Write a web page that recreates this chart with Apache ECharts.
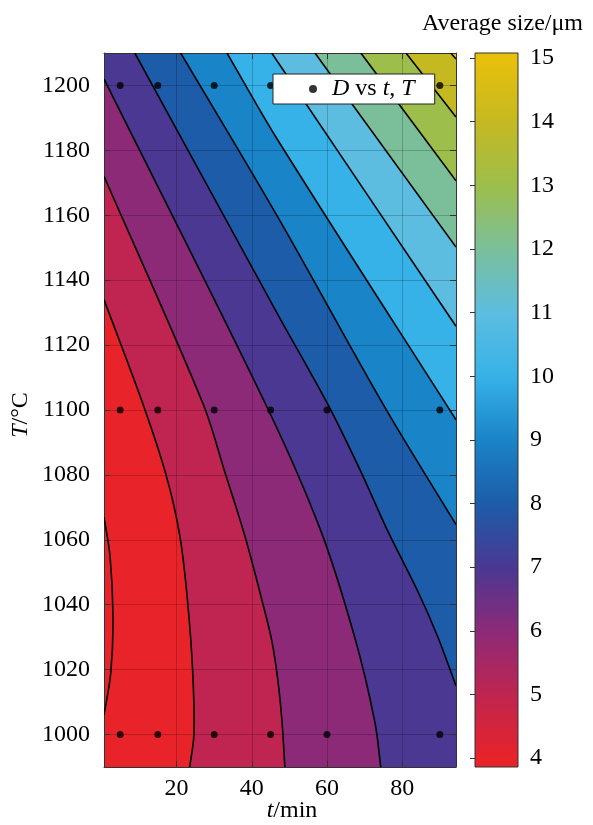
<!DOCTYPE html>
<html><head><meta charset="utf-8">
<script src="https://cdn.jsdelivr.net/npm/echarts@6/dist/echarts.min.js"></script>
<style>html,body{margin:0;padding:0;background:#fff}#c{width:593px;height:825px}</style>
</head><body><div id="c"></div>
<script>
// ---- data ----
const levels = [4,5,6,7,8,9,10,11,12,13,14,15];
const levelColors = ['#e8232a','#bf2550','#8c2a78','#4a3892','#1d5ca8','#1a84c8','#36b2e8','#5dbde0','#7bbf9a','#9dbe4a','#c5b922','#e8c00a'];

// contour lines, traced as [t (min), T (°C)]
const contourLevel4  = [[0.7,1067],[2.3,1055],[3.1,1036],[2.5,1019],[0.7,1006]];
const contourLevel5  = [[0.7,1134],[11.0,1102],[17.2,1080],[20.9,1061],[23.0,1040],[24.3,1019],[24.6,1000],[23.5,990]];
const contourLevel6  = [[0.7,1172],[27.0,1102],[32.8,1081],[38.2,1061],[43.0,1040],[45.3,1029],[46.9,1017],[48.0,1004.5],[48.8,990]];
const contourLevel7  = [[0.7,1202],[44.0,1101],[58.4,1062.6],[67.4,1029.8],[72.7,1004],[74.3,990]];
const contourLevel8  = [[8.9,1210],[46.9,1129.5],[60.2,1101.8],[69.0,1081],[76.2,1062.6],[84.2,1044],[89.5,1030],[94.3,1015]];
const contourLevel9  = [[21.1,1210],[46.9,1159.5],[75.4,1100.8],[94.3,1064.7]];
const contourLevel10 = [[33.4,1210],[46.9,1183.2],[94.3,1097]];
const contourLevel11 = [[45.3,1210],[94.3,1125.8]];
const contourLevel12 = [[56.8,1210],[94.3,1150.2]];
const contourLevel13 = [[69.0,1210],[94.3,1170.6]];
const contourLevel14 = [[81.0,1210],[94.3,1190.3]];
const contourLevel15 = [[92.9,1210],[94.3,1208.2]];

// measured samples
const sampleTimes = [5,15,30,45,60,90];
const sampleTemps = [1000,1100,1200];

// ticks
const xTicks = [20,40,60,80];
const yTicks = [1000,1020,1040,1060,1080,1100,1120,1140,1160,1180,1200];
const cbTicks = [4,5,6,7,8,9,10,11,12,13,14,15];

// ---- chart ----
const FONT = 'Liberation Serif';
const FS = 24;
const X0 = 0.7, X1 = 94.3, Y0 = 990, Y1 = 1210;
const CB0 = 3.86, CB1 = 15.08;
const contourLines = [contourLevel4,contourLevel5,contourLevel6,contourLevel7,contourLevel8,contourLevel9,
  contourLevel10,contourLevel11,contourLevel12,contourLevel13,contourLevel14,contourLevel15];

function perim(p){
  const e = 0.01;
  if (Math.abs(p[0]-X0) < e) return (p[1]-Y0)/(Y1-Y0);
  if (Math.abs(p[1]-Y1) < e) return 1 + (p[0]-X0)/(X1-X0);
  if (Math.abs(p[0]-X1) < e) return 2 + (Y1-p[1])/(Y1-Y0);
  return 3 + (X1-p[0])/(X1-X0);
}
const corners = {1:[X0,Y1], 2:[X1,Y1], 3:[X1,Y0], 4:[X0,Y0]};
function regionCorners(line){
  const pS = perim(line[0]), pE = perim(line[line.length-1]);
  const out = [];
  for (let k = Math.floor(pE); k > pS; k--) { if (k < pE && corners[k]) out.push(corners[k]); }
  return out;
}
// smooth stroke through pixel points (chord-scaled Catmull-Rom as cubic Bezier)
function dist(a, b){ return Math.hypot(a[0]-b[0], a[1]-b[1]); }
function curveD(px){
  let d = 'M' + px[0][0] + ' ' + px[0][1];
  const n = px.length;
  for (let i = 0; i < n-1; i++) {
    const p0 = px[Math.max(0,i-1)], p1 = px[i], p2 = px[i+1], p3 = px[Math.min(n-1,i+2)];
    const d12 = dist(p1,p2);
    const s1 = d12 / (3 * (dist(p0,p1) + d12));
    const s2 = d12 / (3 * (d12 + dist(p2,p3)));
    const c1 = [p1[0] + (p2[0]-p0[0])*s1, p1[1] + (p2[1]-p0[1])*s1];
    const c2 = [p2[0] - (p3[0]-p1[0])*s2, p2[1] - (p3[1]-p1[1])*s2];
    d += ' C' + c1[0] + ' ' + c1[1] + ' ' + c2[0] + ' ' + c2[1] + ' ' + p2[0] + ' ' + p2[1];
  }
  return d;
}

const samples = [];
sampleTemps.forEach(T => sampleTimes.forEach(t => samples.push([t, T])));

const chart = echarts.init(document.getElementById('c'), null, {renderer:'canvas'});
const axisCol = '#333';
const labelStyle = {fontSize:FS, fontFamily:FONT, color:'#000'};

const cbStops = [{offset:0, color: levelColors[levels.length-1]}];
for (let i = levels.length-1; i >= 0; i--) {
  cbStops.push({offset: Math.min(1, Math.max(0, (CB1-levels[i])/(CB1-CB0))), color: levelColors[i]});
}
cbStops.push({offset:1, color: levelColors[0]});

const series = [];
// filled bands: base colour, then region above each level painted in ascending order
series.push({
  type:'custom', xAxisIndex:0, yAxisIndex:0, z:1, silent:true, clip:true,
  data: levels.map((l, i) => contourLines[i][0]),
  renderItem: function(params, api){
    const i = params.dataIndex;
    let d;
    if (i === 0) {
      const c = [[X0,Y0],[X0,Y1],[X1,Y1],[X1,Y0]].map(p => api.coord(p));
      d = 'M' + c.map(p => p[0] + ' ' + p[1]).join(' L') + ' Z';
    } else {
      const line = contourLines[i];
      d = curveD(line.map(p => api.coord(p)));
      regionCorners(line).forEach(c => { const q = api.coord(c); d += ' L' + q[0] + ' ' + q[1]; });
      d += ' Z';
    }
    return {type:'path', shape:{pathData:d}, style:{fill:levelColors[i], stroke:levelColors[i], lineWidth:0.6}};
  }
});
// contour lines
series.push({
  type:'custom', xAxisIndex:0, yAxisIndex:0, z:4, silent:true, clip:true,
  data: levels.map((l, i) => contourLines[i][0]),
  renderItem: function(params, api){
    const line = contourLines[params.dataIndex];
    return {type:'path', shape:{pathData: curveD(line.map(p => api.coord(p)))},
      style:{fill:null, stroke:'#000', lineWidth:1.6}};
  }
});
series.push({
  type:'scatter', name:'D vs t, T', xAxisIndex:0, yAxisIndex:0, data: samples,
  symbol:'circle', symbolSize:7, itemStyle:{color:'#000'}, z:5
});
series.push({
  type:'custom', xAxisIndex:2, yAxisIndex:2, z:2, silent:true,
  data:[[0, CB0]],
  renderItem: function(params, api){
    const a = api.coord([0, CB1]), b = api.coord([1, CB0]);
    return {type:'rect', shape:{x:a[0], y:a[1], width:b[0]-a[0], height:b[1]-a[1]},
      style:{fill: new echarts.graphic.LinearGradient(0,0,0,1, cbStops), stroke:axisCol, lineWidth:1}};
  }
});

const option = {
  animation:false,
  textStyle:{fontFamily:FONT},
  grid:[
    {left:104, top:53, width:352, height:714},
    {left:475, top:53, width:43, height:714}
  ],
  xAxis:[
    {gridIndex:0, type:'value', min:X0, max:X1, position:'bottom', z:3,
     axisLine:{show:true, onZero:false, lineStyle:{color:axisCol, width:1}},
     axisTick:{show:true, inside:true, length:6, customValues:xTicks, lineStyle:{color:axisCol}},
     axisLabel:Object.assign({customValues:xTicks, margin:10, formatter: v => String(v)}, labelStyle),
     splitLine:{show:true, lineStyle:{color:'rgba(0,0,0,0.2)', width:1}}},
    {gridIndex:0, type:'value', min:X0, max:X1, position:'top', z:3,
     axisLine:{show:true, onZero:false, lineStyle:{color:axisCol, width:1}},
     axisTick:{show:true, inside:true, length:6, customValues:xTicks, lineStyle:{color:axisCol}},
     axisLabel:{show:false}, splitLine:{show:false}},
    {gridIndex:1, type:'value', min:0, max:1, show:false}
  ],
  yAxis:[
    {gridIndex:0, type:'value', min:Y0, max:Y1, position:'left', z:3,
     axisLine:{show:true, onZero:false, lineStyle:{color:axisCol, width:1}},
     axisTick:{show:true, inside:true, length:6, customValues:yTicks, lineStyle:{color:axisCol}},
     axisLabel:Object.assign({customValues:yTicks, margin:14, formatter: v => String(v)}, labelStyle),
     splitLine:{show:true, lineStyle:{color:'rgba(0,0,0,0.2)', width:1}}},
    {gridIndex:0, type:'value', min:Y0, max:Y1, position:'right', z:3,
     axisLine:{show:true, onZero:false, lineStyle:{color:axisCol, width:1}},
     axisTick:{show:true, inside:true, length:6, customValues:yTicks, lineStyle:{color:axisCol}},
     axisLabel:{show:false}, splitLine:{show:false}},
    {gridIndex:1, type:'value', min:CB0, max:CB1, position:'right', z:3,
     axisLine:{show:false},
     axisTick:{show:true, inside:true, length:5, customValues:cbTicks, lineStyle:{color:axisCol}},
     axisLabel:Object.assign({customValues:cbTicks, margin:12, formatter: v => String(v)}, labelStyle),
     splitLine:{show:false}}
  ],
  legend:{
    data:['D vs t, T'], left:273, top:74, orient:'horizontal', selectedMode:false,
    backgroundColor:'#fff', borderColor:'#222', borderWidth:1, borderRadius:0,
    padding:[3,20,3,36], itemWidth:8, itemHeight:8, icon:'circle', z:6,
    formatter: () => '{i|D} vs {i|t}, {i|T}',
    textStyle:{fontSize:FS, fontFamily:FONT, color:'#000', lineHeight:24, padding:[0,0,0,10],
      rich:{i:{fontStyle:'italic', fontSize:FS, fontFamily:FONT, color:'#000', lineHeight:24}}}
  },
  graphic:[
    {type:'text', x:422, y:24, style:{text:'Average size/μm', fontSize:FS, fontFamily:FONT, fill:'#000', verticalAlign:'middle'}},
    {type:'text', x:292, y:811, style:{text:'{i|t}/min', fontSize:FS, fontFamily:FONT, fill:'#000', align:'center', verticalAlign:'middle',
      rich:{i:{fontStyle:'italic', fontSize:FS, fontFamily:FONT, fill:'#000'}}}},
    {type:'text', x:21, y:415, rotation:Math.PI/2, style:{text:'{i|T}/°C', fontSize:FS, fontFamily:FONT, fill:'#000', align:'center', verticalAlign:'middle',
      rich:{i:{fontStyle:'italic', fontSize:FS, fontFamily:FONT, fill:'#000'}}}}
  ],
  series: series
};
chart.setOption(option);
</script></body></html>
